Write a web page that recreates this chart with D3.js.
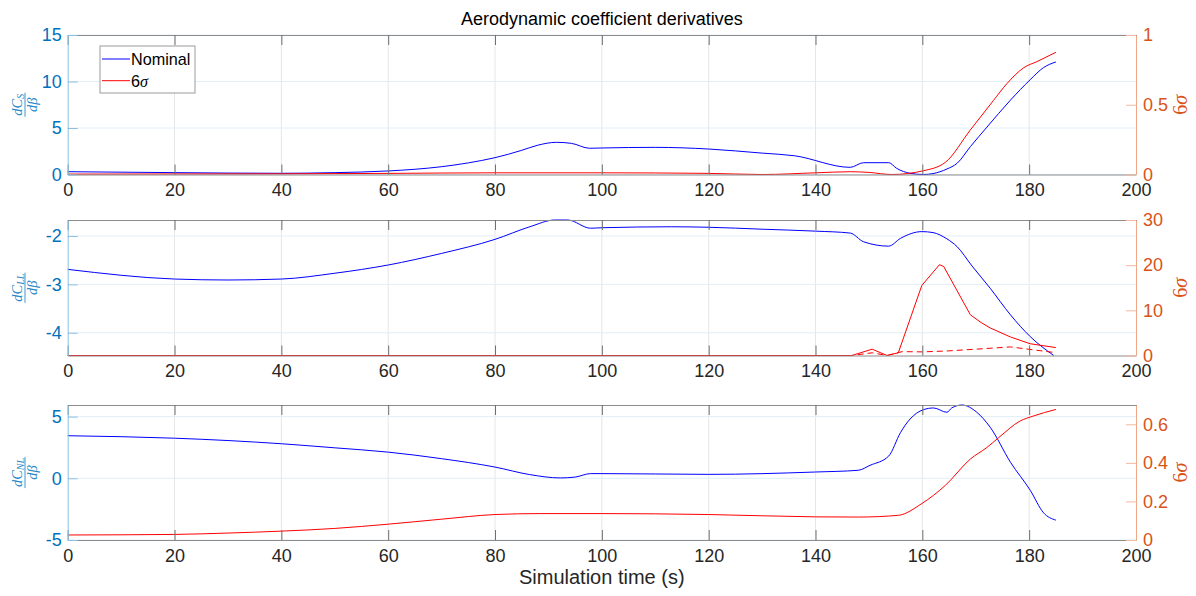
<!DOCTYPE html>
<html>
<head>
<meta charset="utf-8">
<script src="https://cdn.jsdelivr.net/npm/d3@7"></script>
<style>
  body { margin: 0; background: #fff; }
  svg { display: block; font-family: "Liberation Sans", Arial, sans-serif; }
</style>
</head>
<body>
<svg id="chart" width="1196" height="596"></svg>
<script>
// ---- data ----
const xTicks = [0, 20, 40, 60, 80, 100, 120, 140, 160, 180, 200];

// panel 1: dCs/dbeta
const csTicksL = [0, 5, 10, 15];
const csTicksR = [0, 0.5, 1];
const csNomT = [0, 20, 40, 50, 60, 70, 75, 80, 85, 88, 91.5, 94.3, 97.7, 100, 110, 120, 130, 136, 146.5, 149, 153.7, 155.2, 157.7, 160.2, 162, 164.6, 166.5, 169, 172.1, 176.5, 180.2, 182.7, 185];
const csNomV = [0.3, 0.2, 0.13, 0.2, 0.38, 0.84, 1.25, 1.81, 2.6, 3.15, 3.46, 3.35, 2.82, 2.85, 2.92, 2.74, 2.3, 2.02, 0.77, 1.27, 1.27, 0.66, 0.13, 0.0, 0.1, 0.59, 1.2, 3.0, 5.1, 8.0, 10.2, 11.5, 12.1];
const csSigT = [0, 40, 60, 80, 100, 120, 130, 140, 146.5, 150, 154.3, 160.2, 164.3, 169, 173.3, 175.8, 179, 181.5, 185];
const csSigV = [0.003, 0.005, 0.008, 0.012, 0.012, 0.008, 0.0, 0.012, 0.02, 0.015, 0.0, 0.027, 0.087, 0.32, 0.53, 0.65, 0.766, 0.81, 0.876];

// panel 2: dCLL/dbeta
const cllTicksL = [-4, -3, -2];
const cllTicksR = [0, 10, 20, 30];
const cllNomT = [0, 20, 30, 40, 50, 60, 70, 80, 86.5, 91.2, 93.6, 97.9, 100, 113, 120, 130, 140, 146.5, 149, 153.7, 155.9, 159.9, 162, 164.6, 166.5, 169.3, 172.7, 176.5, 180.2, 184.6];
const cllNomV = [-2.69, -2.89, -2.91, -2.89, -2.77, -2.6, -2.36, -2.07, -1.81, -1.67, -1.67, -1.84, -1.83, -1.81, -1.82, -1.86, -1.9, -1.94, -2.12, -2.21, -2.05, -1.91, -1.93, -2.06, -2.22, -2.62, -3.08, -3.63, -4.08, -4.47];
const cllSigT = [0, 146.8, 150.6, 153.4, 155.5, 159.9, 163.2, 164, 169, 171, 172.7, 176.5, 180.2, 185];
const cllSigV = [0, 0, 1.4, 0, 0.6, 15.5, 20.1, 19.7, 9.0, 7.3, 6.1, 4.1, 2.6, 1.75];
const cllSig2T = [0, 146.8, 150.6, 153.4, 156.2, 160, 164.6, 170, 176.5, 180.8, 185];
const cllSig2V = [0, 0, 0.6, 0, 0.85, 0.8, 1.0, 1.4, 1.9, 1.25, 0.63];

// panel 3: dCNL/dbeta
const cnlTicksL = [-5, 0, 5];
const cnlTicksR = [0, 0.2, 0.4, 0.6];
const cnlNomT = [0, 20, 30, 40, 50, 60, 70, 80, 86.5, 92.2, 95, 97.9, 100, 120, 140, 148, 150.2, 153.7, 155.9, 157.7, 160.2, 162.1, 164.6, 165.5, 167.4, 170.2, 172.7, 176.5, 180.2, 182.7, 185];
const cnlNomV = [3.45, 3.25, 3.06, 2.8, 2.47, 2.12, 1.59, 0.91, 0.3, 0.03, 0.1, 0.38, 0.38, 0.32, 0.51, 0.65, 1.05, 1.8, 3.7, 4.8, 5.56, 5.7, 5.35, 5.7, 5.94, 5.35, 4.14, 1.3, -0.97, -2.8, -3.39];
const cnlSigT = [0, 20, 30, 40, 50, 60, 70, 80, 88.4, 100, 120, 140, 148, 155.5, 159.9, 164.3, 169, 172.1, 174.3, 178.3, 180.8, 185];
const cnlSigV = [0.026, 0.029, 0.036, 0.046, 0.06, 0.082, 0.108, 0.132, 0.137, 0.137, 0.132, 0.12, 0.119, 0.128, 0.189, 0.283, 0.42, 0.48, 0.531, 0.617, 0.643, 0.677];

const BLUE_AX = '#0072BD', ORANGE_AX = '#D95319';
const fmt = d => String(d); // matlab style: -2, 0.5, 1

const svg = d3.select('#chart');
const x = d3.scaleLinear().domain([0, 200]).range([67.7, 1136]);

const zip = (t, v) => t.map((d, i) => ({ t: d, v: v[i] }));

const panels = [
  { top: 35, bottom: 174.5, dL: [0, 15], dR: [0, 1], tL: csTicksL, tR: csTicksR, sub: 'S',
    series: [
      { d: zip(csNomT, csNomV), side: 'L', color: '#0000ff' },
      { d: zip(csSigT, csSigV), side: 'R', color: '#ff0000' }
    ] },
  { top: 220, bottom: 355.5, dL: [-4.47, -1.67], dR: [0, 30], tL: cllTicksL, tR: cllTicksR, sub: 'LL',
    series: [
      { d: zip(cllNomT, cllNomV), side: 'L', color: '#0000ff' },
      { d: zip(cllSigT, cllSigV), side: 'R', color: '#ff0000', lin: true },
      { d: zip(cllSig2T, cllSig2V), side: 'R', color: '#ff0000', dash: '6,4', lin: true }
    ] },
  { top: 405, bottom: 540, dL: [-5, 5.94], dR: [0, 0.7], tL: cnlTicksL, tR: cnlTicksR, sub: 'NL',
    series: [
      { d: zip(cnlNomT, cnlNomV), side: 'L', color: '#0000ff' },
      { d: zip(cnlSigT, cnlSigV), side: 'R', color: '#ff0000' }
    ] }
];

function drawPanel(p) {
  const yL = d3.scaleLinear().domain(p.dL).range([p.bottom, p.top]);
  const yR = d3.scaleLinear().domain(p.dR).range([p.bottom, p.top]);
  const g = svg.append('g');

  // grid
  g.selectAll('.vg').data(xTicks.slice(1, -1)).join('line')
    .attr('x1', d => x(d)).attr('x2', d => x(d))
    .attr('y1', p.top).attr('y2', p.bottom)
    .attr('stroke', '#e6e6e6').attr('stroke-width', 1);
  g.selectAll('.hg').data(p.tL).join('line')
    .attr('x1', x(0)).attr('x2', x(200))
    .attr('y1', d => yL(d)).attr('y2', d => yL(d))
    .attr('stroke', '#e2eef7').attr('stroke-width', 1);

  // series
  p.series.forEach(s => {
    const y = s.side === 'L' ? yL : yR;
    const line = d3.line().x(d => x(d.t)).y(d => y(d.v))
      .curve(s.lin ? d3.curveLinear : d3.curveMonotoneX);
    g.append('path').datum(s.d)
      .attr('fill', 'none')
      .attr('stroke', s.color)
      .attr('stroke-width', 1)
      .attr('stroke-dasharray', s.dash || null)
      .attr('d', line);
  });

  // axes
  const style = (sel, lineCol, tickCol, textCol) => {
    sel.attr('font-family', '"Liberation Sans", Arial, sans-serif').attr('font-size', 18);
    sel.select('.domain').attr('stroke', lineCol);
    sel.selectAll('.tick line').attr('stroke', tickCol);
    sel.selectAll('.tick text').attr('fill', textCol);
  };

  const top = g.append('g').attr('transform', `translate(0,${p.top})`)
    .call(d3.axisTop(x).tickValues(xTicks).tickSizeInner(-10).tickSizeOuter(0).tickFormat(''));
  style(top, '#8c8c8c', '#6e6e6e', '#262626');

  const bot = g.append('g').attr('transform', `translate(0,${p.bottom})`)
    .call(d3.axisBottom(x).tickValues(xTicks).tickFormat(fmt).tickSizeInner(-10).tickSizeOuter(0).tickPadding(9));
  style(bot, '#8c8c8c', '#6e6e6e', '#262626');

  const left = g.append('g').attr('transform', `translate(${x(0)},0)`)
    .call(d3.axisLeft(yL).tickValues(p.tL).tickFormat(fmt).tickSizeInner(-10).tickSizeOuter(0).tickPadding(6));
  style(left, '#8cc0e3', '#8cc0e3', BLUE_AX);

  const right = g.append('g').attr('transform', `translate(${x(200)},0)`)
    .call(d3.axisRight(yR).tickValues(p.tR).tickFormat(fmt).tickSizeInner(-10).tickSizeOuter(0).tickPadding(7));
  style(right, '#f0a888', '#f4b9a0', ORANGE_AX);

  // left label: fraction dC_sub / d beta
  const cy = (p.top + p.bottom) / 2;
  const lab = g.append('g').attr('transform', `translate(25,${cy}) rotate(-90)`)
    .attr('fill', '#2a88c8').attr('font-family', '"Liberation Serif", "DejaVu Serif", serif')
    .attr('font-style', 'italic');
  const num = lab.append('text').attr('text-anchor', 'middle').attr('y', -3.5).attr('font-size', 14.5);
  num.append('tspan').text('dC');
  num.append('tspan').attr('font-size', 10).attr('dy', 2.5).text(p.sub);
  lab.append('text').attr('text-anchor', 'middle').attr('y', 11.5).attr('font-size', 14.5).text('dβ');
  const w = num.node().getComputedTextLength();
  lab.append('line').attr('x1', -w / 2 - 1).attr('x2', w / 2 + 1).attr('y1', 0).attr('y2', 0)
    .attr('stroke', '#2a88c8').attr('stroke-width', 0.9);

  // right label 6 sigma
  const rl = g.append('text').attr('transform', `translate(1187,${cy}) rotate(-90)`)
    .attr('text-anchor', 'middle').attr('fill', ORANGE_AX)
    .attr('font-family', '"Liberation Serif", "DejaVu Serif", serif').attr('font-size', 20);
  rl.append('tspan').text('6');
  rl.append('tspan').attr('font-style', 'italic').text('σ');

  return g;
}

const g1 = drawPanel(panels[0]);
panels.slice(1).forEach(drawPanel);

// legend in panel 1
const leg = g1.append('g');
leg.append('rect').attr('x', 100).attr('y', 46).attr('width', 95).attr('height', 47)
  .attr('fill', '#fff').attr('stroke', '#9a9a9a').attr('stroke-width', 1);
const legItems = [
  { label: 'Nominal', color: '#0000ff', y: 59 },
  { label: '6', sig: true, color: '#ff0000', y: 80.7 }
];
legItems.forEach(it => {
  leg.append('line').attr('x1', 102).attr('x2', 130).attr('y1', it.y).attr('y2', it.y)
    .attr('stroke', it.color).attr('stroke-width', 1);
  const t = leg.append('text').attr('x', 131).attr('y', it.y + 5.8)
    .attr('font-size', 16.2).attr('fill', '#000').text(it.label);
  if (it.sig) {
    t.append('tspan').attr('font-family', '"Liberation Serif", serif').attr('font-style', 'italic').text('σ');
  }
});

// title and x label
svg.append('text').attr('x', 601.8).attr('y', 24.5).attr('text-anchor', 'middle')
  .attr('font-size', 18).attr('fill', '#000').text('Aerodynamic coefficient derivatives');
svg.append('text').attr('x', 601.8).attr('y', 584).attr('text-anchor', 'middle')
  .attr('font-size', 20).attr('fill', '#262626').text('Simulation time (s)');
</script>
</body>
</html>
